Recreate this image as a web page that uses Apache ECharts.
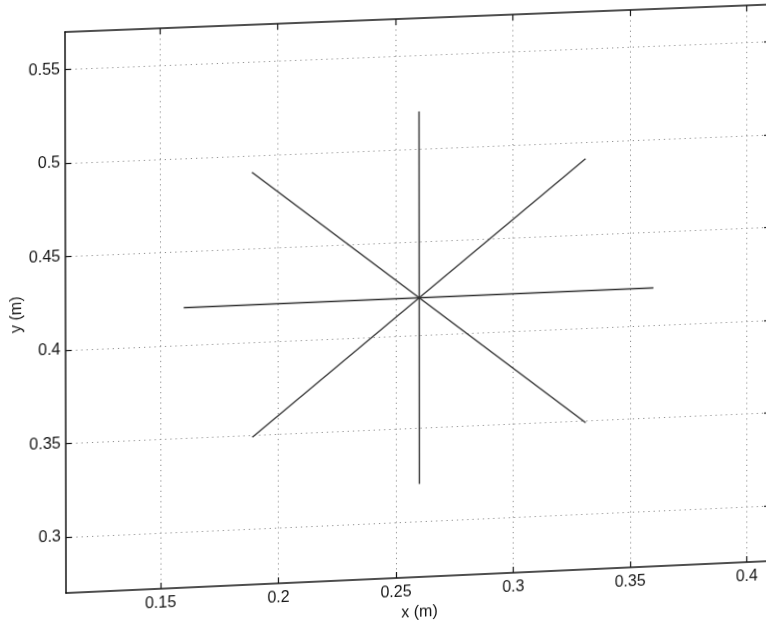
<!DOCTYPE html>
<html>
<head>
<meta charset="utf-8">
<title>Star pattern</title>
<script src="https://cdn.jsdelivr.net/npm/echarts@6/dist/echarts.min.js"></script>
<style>
  html, body { margin: 0; padding: 0; background: #fff; overflow: hidden; width: 766px; height: 623px; }
  #chart { position: absolute; left: 0; top: 0; width: 800px; height: 660px; transform-origin: 0 0; }
</style>
</head>
<body>
<div id="chart"></div>
<script>
// Axis ranges and tick labels
const xRange = [0.11, 0.41];
const yRange = [0.27, 0.57];
const xTicks = [0.15, 0.2, 0.25, 0.3, 0.35, 0.4];
const yTicks = [0.3, 0.35, 0.4, 0.45, 0.5, 0.55];

// Four spokes through the centre point (x, y pairs of each end)
const spokeVertical   = [[0.26, 0.32], [0.26, 0.52]];
const spokeHorizontal = [[0.16, 0.42], [0.36, 0.42]];
const spokeRising     = [[0.189, 0.349], [0.331, 0.491]];
const spokeFalling    = [[0.189, 0.491], [0.331, 0.349]];

const spokes = [spokeVertical, spokeHorizontal, spokeRising, spokeFalling];

const font = "'Liberation Sans', Arial, Helvetica, sans-serif";
const ink = '#141414';
const fontSize = 16;

const gridLine = { show: true, lineStyle: { color: '#8a8a8a', width: 1, type: [1.2, 4] } };

function valueAxis(range, ticks, extra) {
  return Object.assign({
    type: 'value',
    min: range[0],
    max: range[1],
    axisLine: { show: true, onZero: false, lineStyle: { color: ink, width: 1.5 } },
    axisTick: { show: true, inside: true, length: 6, customValues: ticks, lineStyle: { color: ink, width: 1.2 } },
    axisLabel: { show: true, customValues: ticks, color: ink, fontSize: fontSize, fontFamily: font },
    splitLine: { show: false }
  }, extra);
}

const chart = echarts.init(document.getElementById('chart'));

chart.setOption({
  animation: false,
  backgroundColor: '#fff',
  grid: { left: 66, top: 32, width: 705, height: 561, containLabel: false, outerBoundsMode: 'none' },
  xAxis: [
    valueAxis(xRange, xTicks, {
      position: 'bottom',
      name: 'x (m)',
      nameLocation: 'middle',
      nameGap: 28,
      nameMoveOverlap: false,
      nameTextStyle: { color: ink, fontSize: fontSize, fontFamily: font },
      axisLabel: { show: true, customValues: xTicks, color: ink, fontSize: fontSize, fontFamily: font, margin: 7 },
      splitLine: gridLine
    }),
    valueAxis(xRange, xTicks, {
      position: 'top',
      axisLabel: { show: false }
    })
  ],
  yAxis: [
    valueAxis(yRange, yTicks, {
      position: 'left',
      name: 'y (m)',
      nameLocation: 'middle',
      nameRotate: 90,
      nameGap: 40,
      nameMoveOverlap: false,
      nameTextStyle: { color: ink, fontSize: fontSize, fontFamily: font },
      axisLabel: { show: true, customValues: yTicks, color: ink, fontSize: fontSize, fontFamily: font, margin: 5 },
      splitLine: gridLine
    }),
    valueAxis(yRange, yTicks, {
      position: 'right',
      axisLabel: { show: false }
    })
  ],
  series: spokes.map(function (pts) {
    return {
      type: 'line',
      data: pts,
      symbol: 'none',
      silent: true,
      lineStyle: { color: '#333333', width: 1.4 }
    };
  })
});

// Page warp: the printed page was not lying flat, so the frame leans and narrows to the right.
// Solve the projective map taking the plot frame corners to their warped places.
function solveHomography(src, dst) {
  const A = [], b = [];
  for (let i = 0; i < 4; i++) {
    const x = src[i][0], y = src[i][1], X = dst[i][0], Y = dst[i][1];
    A.push([x, y, 1, 0, 0, 0, -x * X, -y * X]); b.push(X);
    A.push([0, 0, 0, x, y, 1, -x * Y, -y * Y]); b.push(Y);
  }
  const n = 8;
  for (let c = 0; c < n; c++) {
    let p = c;
    for (let r = c + 1; r < n; r++) if (Math.abs(A[r][c]) > Math.abs(A[p][c])) p = r;
    [A[c], A[p]] = [A[p], A[c]]; [b[c], b[p]] = [b[p], b[c]];
    for (let r = 0; r < n; r++) {
      if (r === c) continue;
      const f = A[r][c] / A[c][c];
      for (let k = c; k < n; k++) A[r][k] -= f * A[c][k];
      b[r] -= f * b[c];
    }
  }
  return b.map(function (v, i) { return v / A[i][i]; });
}

const frame = [[66, 32], [771, 32], [66, 593], [771, 593]];
const warped = [[65, 32], [770, 4.5], [66, 593], [770, 561]];
const h = solveHomography(frame, warped);
document.getElementById('chart').style.transform =
  'matrix3d(' + [h[0], h[3], 0, h[6], h[1], h[4], 0, h[7], 0, 0, 1, 0, h[2], h[5], 0, 1].join(',') + ')';
</script>
</body>
</html>
